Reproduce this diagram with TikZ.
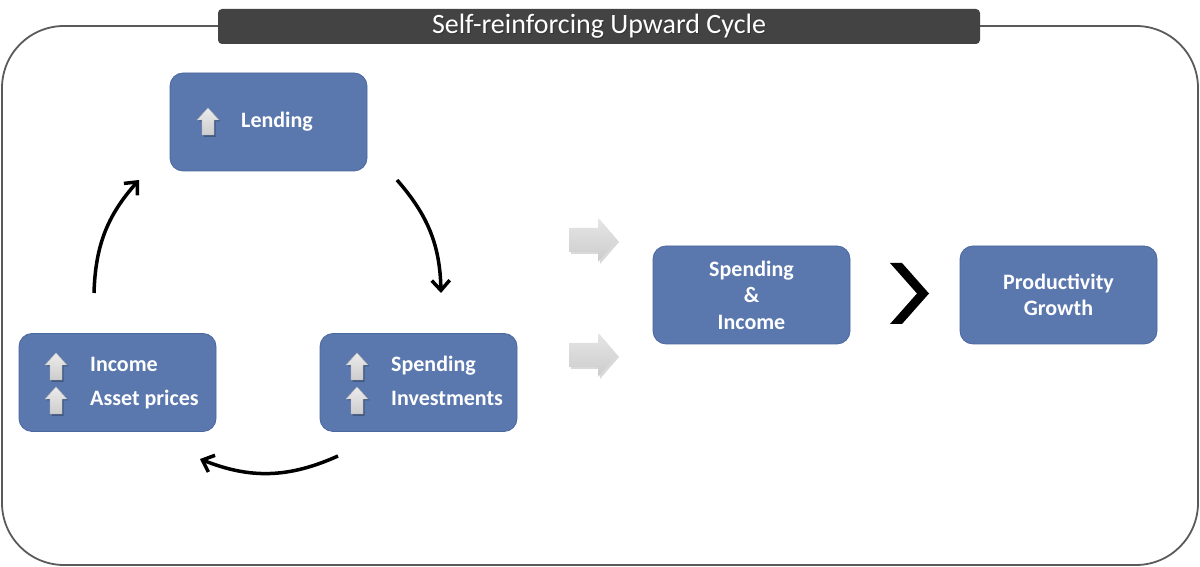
\documentclass[tikz,border=0pt]{standalone}
\usepackage{fontspec}
\setmainfont{Carlito}
\usetikzlibrary{arrows.meta}
\definecolor{boxblue}{HTML}{5A77AE}
\definecolor{boxedge}{HTML}{4A679E}
\definecolor{titlegrey}{HTML}{434343}
\definecolor{framegrey}{HTML}{5A5A5A}
\tikzset{
  bluebox/.style={draw=boxedge, line width=0.8pt, fill=boxblue, rounded corners=13pt,
    minimum width=197pt, minimum height=98pt, inner sep=0pt},
  boxtext/.style={text=white, font=\fontsize{22}{26.5}\selectfont\bfseries, inner sep=0pt},
  cyclearrow/.style={line width=3.5pt, -{Straight Barb[length=10pt,width=18pt,line width=3.5pt]}},
  uparr/.pic={
    \fill[black, opacity=0.25] (1.5,-1.5) -- (12.5,-13.5) -- (7.5,-13.5) -- (7.5,-29) -- (-4.5,-29) -- (-4.5,-13.5) -- (-9.5,-13.5) -- cycle;
    \shade[top color=gray!15, bottom color=gray!40, draw=gray!55, line width=0.4pt]
      (0,0) -- (11,-12) -- (6,-12) -- (6,-27) -- (-6,-27) -- (-6,-12) -- (-11,-12) -- cycle;
  },
  rightarr/.pic={
    \fill[black, opacity=0.15] (2,-14) -- (31,-14) -- (31,-24) -- (50,-2) -- (31,20) -- (31,10) -- (2,10) -- cycle;
    \shade[top color=gray!20, bottom color=gray!40]
      (0,-12) -- (29,-12) -- (29,-22) -- (48,0) -- (29,22) -- (29,12) -- (0,12) -- cycle;
  }
}
\begin{document}
\begin{tikzpicture}[x=1pt,y=1pt]
\useasboundingbox (0,0) rectangle (1200,567);
% outer frame
\draw[framegrey, line width=1.8pt, rounded corners=62pt] (2,2) rectangle (1198,541);
% title
\node[fill=titlegrey, rounded corners=4pt, minimum width=762pt, minimum height=35pt, inner sep=0pt] (title) at (599,540.5) {};
\node[text=black!80, font=\fontsize{28}{30}\selectfont, inner sep=0pt] at (600,539.7) {Self-reinforcing Upward Cycle};
\node[text=white, font=\fontsize{28}{30}\selectfont, inner sep=0pt] (titletext) at (599,540.5) {Self-reinforcing Upward Cycle};
% boxes
\node[bluebox] (lend) at (268.5,445) {};
\node[bluebox] (inc) at (117.5,184.5) {};
\node[bluebox] (spend) at (418.5,184.5) {};
\node[bluebox] (si) at (751.5,272) {};
\node[bluebox] (pg) at (1058.5,272) {};
% box texts
\node[boxtext, anchor=base west] (lendt) at (241,439) {Lending};
\node[boxtext, anchor=base west] (inct1) at (90,195) {Income};
\node[boxtext, anchor=base west] (inct2) at (90,161) {Asset prices};
\node[boxtext, anchor=base west] (spt1) at (391,195) {Spending};
\node[boxtext, anchor=base west] (spt2) at (391,161) {Investments};
\node[boxtext, align=center] (sit) at (si) {Spending\\\&\\Income};
\node[boxtext, align=center] (pgt) at (pg) {Productivity\\Growth};
% small up arrows
\pic at (208,459) {uparr};
\pic at (56,214) {uparr};
\pic at (56,180) {uparr};
\pic at (357,214) {uparr};
\pic at (357,180) {uparr};
% grey block arrows
\pic at (569,327) {rightarr};
\pic at (569,212) {rightarr};
% chevron
\fill[black] (890,304) -- (902,304) -- (929,273.5) -- (902,243) -- (890,243) -- (917,273.5) -- cycle;
% cycle arrows
\coordinate (a1s) at (94,274);
\coordinate (a1e) at (139,387);
\coordinate (a2s) at (397,387);
\coordinate (a2e) at (441,274);
\coordinate (a3s) at (338,111);
\coordinate (a3e) at (200,108);
\draw[cyclearrow] (a1s) to[bend left=20] (a1e);
\draw[cyclearrow] (a2s) to[bend left=20] (a2e);
\draw[cyclearrow] (a3s) to[bend left=23] (a3e);
\end{tikzpicture}
\end{document}
